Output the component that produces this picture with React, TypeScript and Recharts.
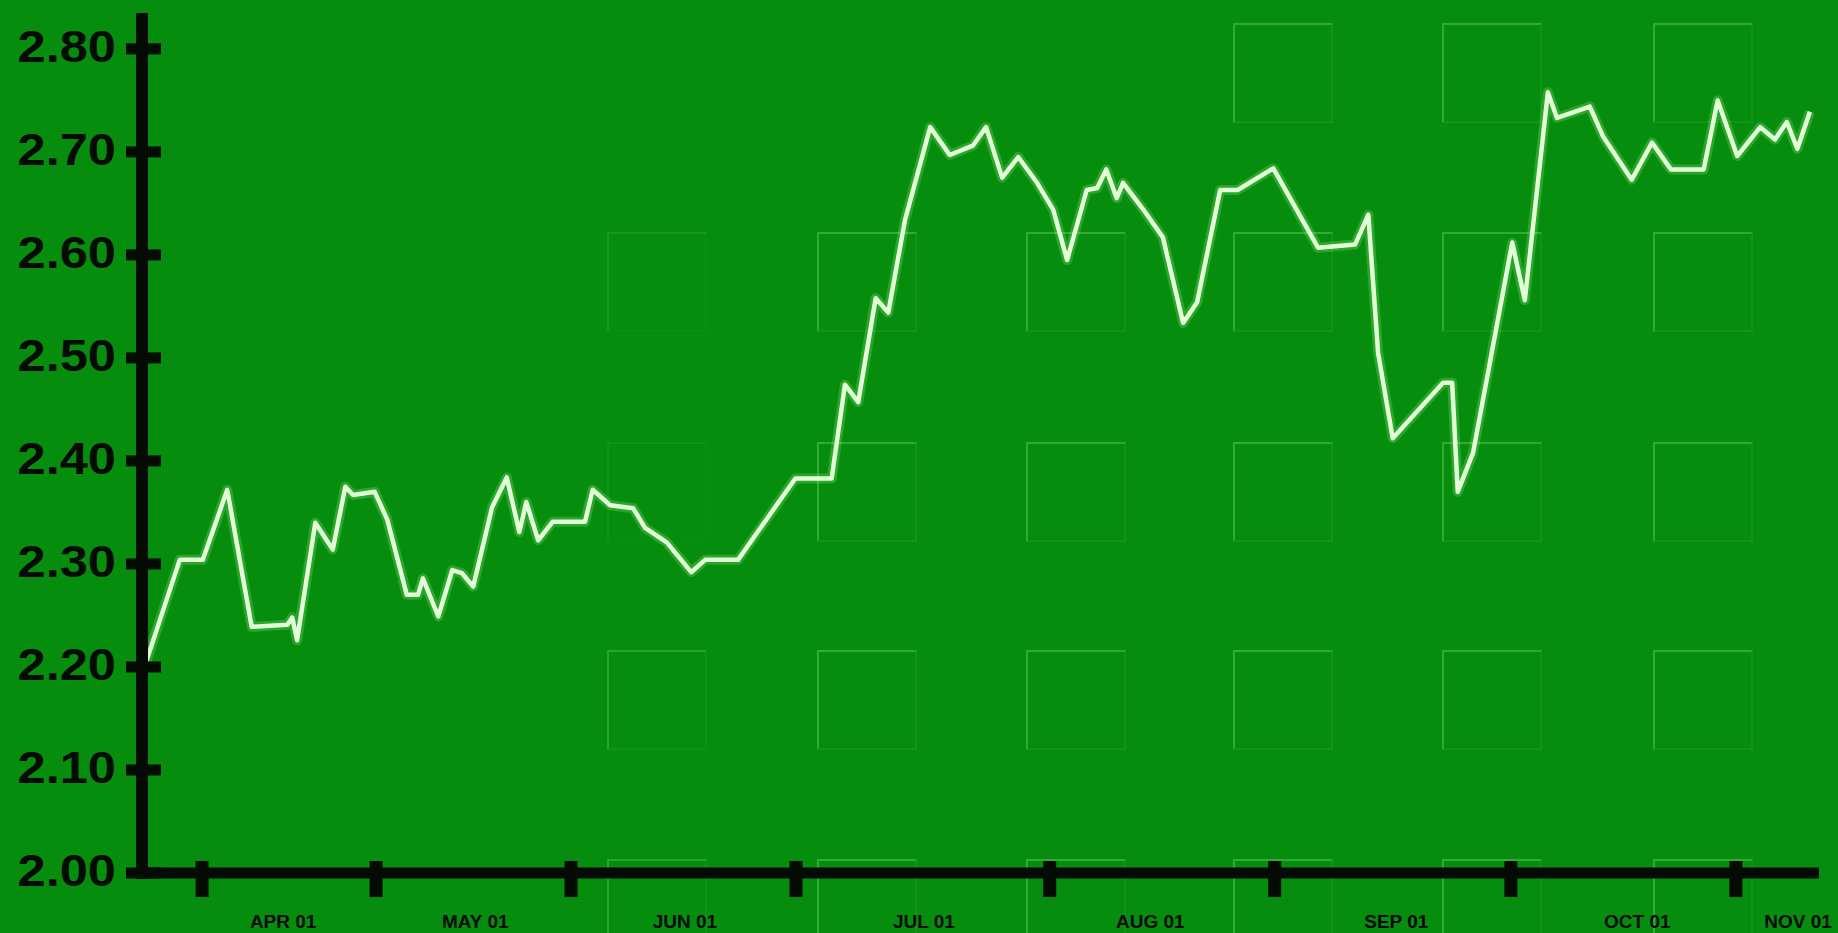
import React from 'react';
import { LineChart, Line, XAxis, YAxis } from 'recharts';

// Price track. x is a day offset from the start of the axis.
const DAY = [
  0.5, 5.4, 8.7, 12.2, 15.7, 20.8, 21.5, 22.2, 24.8, 27.3, 29.1, 30.2, 33.3, 35.1, 37.9, 39.5,
  40.2, 42.4, 44.4, 45.8, 47.4, 50.1, 52.2, 54.0, 55.0, 56.7, 58.8, 63.4, 64.5, 67.0, 70.3,
  72.0, 75.1, 78.6, 80.6, 85.3, 93.5, 98.7, 100.6, 102.5, 105.0, 106.8, 109.2, 112.8, 115.6,
  118.9, 120.8, 123.1, 125.4, 128.1, 130.4, 132.4, 135.2, 136.7, 138.0, 139.5, 140.4, 143.3,
  146.1, 149.0, 151.0, 154.3, 156.8, 161.9, 168.3, 173.6, 175.5, 176.9, 179.0, 186.2, 187.5,
  188.3, 190.5, 196.1, 197.9, 201.2, 202.5, 207.2, 209.1, 213.2, 216.1, 218.8, 223.5, 225.5,
  228.3, 231.6, 233.7, 235.4, 236.9, 238.7,
];
const PRICE = [
  2.203, 2.304, 2.304, 2.372, 2.239, 2.241, 2.248, 2.226, 2.34, 2.314, 2.375, 2.367, 2.37,
  2.343, 2.27, 2.27, 2.286, 2.249, 2.294, 2.291, 2.278, 2.355, 2.384, 2.331, 2.36, 2.323,
  2.341, 2.341, 2.372, 2.357, 2.354, 2.335, 2.321, 2.292, 2.304, 2.304, 2.383, 2.383, 2.474,
  2.457, 2.558, 2.544, 2.634, 2.724, 2.697, 2.706, 2.724, 2.675, 2.695, 2.67, 2.644, 2.595,
  2.663, 2.665, 2.683, 2.655, 2.67, 2.644, 2.617, 2.534, 2.554, 2.663, 2.663, 2.684, 2.607,
  2.61, 2.639, 2.505, 2.422, 2.476, 2.476, 2.37, 2.408, 2.612, 2.556, 2.758, 2.733, 2.744,
  2.715, 2.673, 2.709, 2.683, 2.683, 2.75, 2.696, 2.724, 2.712, 2.729, 2.703, 2.739,
];

const MONTH_LABELS = ['APR 01', 'MAY 01', 'JUN 01', 'JUL 01', 'AUG 01', 'SEP 01', 'OCT 01', 'NOV 01'];
const MONTH_LABEL_DAY = [20.2, 47.7, 77.7, 111.9, 144.3, 179.5, 214.0, 237.0];
const TICK_MARK_DAY = [8.6, 33.5, 61.4, 93.6, 129.9, 162.1, 195.9, 228.1];
const PRICE_TICKS = [2.0, 2.1, 2.2, 2.3, 2.4, 2.5, 2.6, 2.7, 2.8];

const data = DAY.map((d, i) => ({ day: d, price: PRICE[i] }));
const xTicks = [...TICK_MARK_DAY, ...MONTH_LABEL_DAY].sort((a, b) => a - b);

const W = 1838;
const H = 933;
const AXIS_X = 142; // left edge of plot
const AXIS_Y = 873; // bottom edge of plot
const BG = '#068d0d';
const INK = '#030b03';
const FONT = "'Liberation Sans', Arial, Helvetica, sans-serif";

// faint embossed tiles in the backdrop (decoration only)
const TILE_COLS = [607, 817, 1026, 1233, 1442, 1653];
const TILE_ROWS = [23, 232, 442, 650, 859];
const TILE_ON: number[][] = [
  [0, 0, 0, 1, 1, 1],
  [0.4, 1, 1, 1, 1, 1],
  [0.25, 1, 1, 1, 1, 1],
  [0.8, 1, 1, 1, 1, 1],
  [0.8, 1, 1, 1, 1, 1],
];

// the reference uses a wide, heavy face, so the labels are stretched a bit
const YTick = (props: any) => {
  const { y, payload } = props;
  return (
    <g>
      <rect x={AXIS_X - 16} y={y - 5.5} width={35} height={11} fill={INK} />
      <g transform={`translate(116, ${y - 2}) scale(1.15, 1)`}>
        <text
          x={0}
          y={0}
          textAnchor="end"
          dominantBaseline="central"
          fontSize={44}
          fontWeight={700}
          fill={INK}
          fontFamily={FONT}
        >
          {Number(payload.value).toFixed(2)}
        </text>
      </g>
    </g>
  );
};

const XTick = (props: any) => {
  const { x, payload } = props;
  const i = MONTH_LABEL_DAY.indexOf(payload.value);
  if (i >= 0) {
    return (
      <text
        x={x}
        y={AXIS_Y + 48}
        textAnchor="middle"
        dominantBaseline="central"
        fontSize={19}
        fontWeight={700}
        fill={INK}
        fontFamily={FONT}
      >
        {MONTH_LABELS[i]}
      </text>
    );
  }
  return <rect x={x - 6.5} y={AXIS_Y - 12} width={13} height={36} fill={INK} />;
};

export default function App() {
  return (
    <div
      style={{
        position: 'absolute',
        left: 0,
        top: 0,
        width: W,
        height: H,
        background: BG,
        overflow: 'hidden',
      }}
    >
      {TILE_ROWS.map((ty, r) =>
        TILE_COLS.map((tx, c) =>
          TILE_ON[r][c] > 0 ? (
            <div
              key={`${r}-${c}`}
              style={{
                position: 'absolute',
                left: tx,
                top: ty,
                width: 100,
                height: 100,
                boxSizing: 'border-box',
                borderTop: '2px solid rgba(150,240,140,0.3)',
                borderLeft: '2px solid rgba(150,240,140,0.3)',
                borderRight: '2px solid rgba(130,225,120,0.1)',
                borderBottom: '2px solid rgba(130,225,120,0.1)',
                opacity: TILE_ON[r][c],
              }}
            />
          ) : null
        )
      )}
      <div style={{ position: 'absolute', left: 0, top: 0 }}>
        <LineChart
          width={W}
          height={H}
          data={data}
          margin={{ top: 19, right: W - 1819, bottom: 0, left: 0 }}
        >
          <XAxis
            dataKey="day"
            type="number"
            domain={[0, 240]}
            ticks={xTicks}
            interval={0}
            height={H - AXIS_Y}
            tickLine={false}
            axisLine={{ stroke: INK, strokeWidth: 11 }}
            tick={<XTick />}
          />
          <YAxis
            type="number"
            domain={[2.0, 2.829]}
            ticks={PRICE_TICKS}
            interval={0}
            width={AXIS_X}
            tickLine={false}
            axisLine={{ stroke: INK, strokeWidth: 12, strokeLinecap: 'square' }}
            tick={<YTick />}
          />
          <Line
            type="linear"
            dataKey="price"
            stroke="#a8ff9c"
            strokeOpacity={0.22}
            strokeWidth={10}
            dot={false}
            activeDot={false}
            strokeLinejoin="round"
            isAnimationActive={false}
          />
          <Line
            type="linear"
            dataKey="price"
            stroke="#e2ffd6"
            strokeWidth={4.5}
            dot={false}
            activeDot={false}
            strokeLinejoin="round"
            isAnimationActive={false}
          />
        </LineChart>
      </div>
    </div>
  );
}
